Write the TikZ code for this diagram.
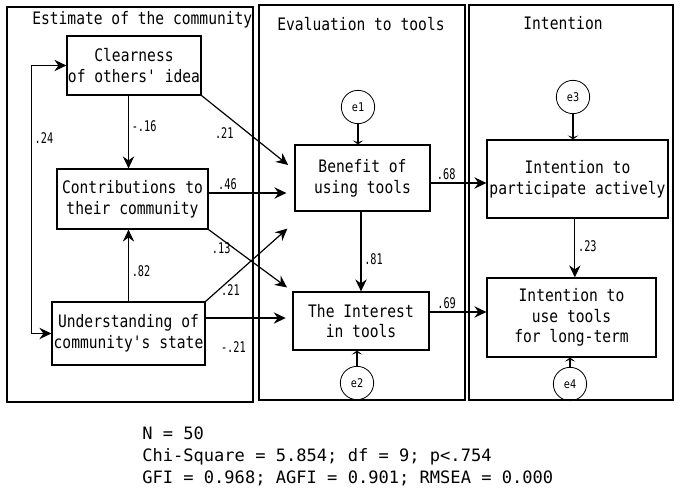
\documentclass[tikz,border=0pt]{standalone}
\usepackage{fontspec}
\newfontfamily\gothic[FakeStretch=0.85]{DejaVu Sans Mono}
\newfontfamily\gothicnarrow[FakeStretch=0.7]{DejaVu Sans Mono}
\newfontfamily\gothicwide{DejaVu Sans Mono}
\usetikzlibrary{arrows.meta,calc,positioning}

\tikzset{
  panel/.style={draw, line width=0.9pt},
  var/.style={draw, line width=0.9pt, align=center, inner sep=0pt,
    font=\gothic\fontsize{12.9pt}{15.6pt}\selectfont},
  err/.style={draw, circle, line width=0.6pt, minimum size=25pt, inner sep=0pt,
    font=\gothic\fontsize{9pt}{10pt}\selectfont},
  arr/.style={line width=0.9pt, -{Stealth[length=9pt,width=8.5pt,inset=3pt]}},
  biarr/.style={line width=0.9pt, {Stealth[length=9pt,width=8.5pt,inset=3pt]}-{Stealth[length=9pt,width=8.5pt,inset=3pt]}},
  errarr/.style={line width=0.8pt, -{Stealth[length=3pt,width=8pt,inset=1.5pt]}},
  coef/.style={font=\gothicnarrow\fontsize{11pt}{12pt}\selectfont, inner sep=2pt},
  title/.style={font=\gothic\fontsize{12.9pt}{15pt}\selectfont, inner sep=0pt},
  stats/.style={align=left, inner sep=0pt, font=\gothicwide\fontsize{12.8pt}{16.5pt}\selectfont}
}

\begin{document}
\begin{tikzpicture}[x=0.75pt,y=-0.75pt]
\useasboundingbox (0,0) rectangle (682,498);

% the three blocks
\draw[panel] (7,7) rectangle (253,402);
\draw[panel] (259,5) rectangle (465,400);
\draw[panel] (469,5) rectangle (673,400);
\node[title, anchor=west] (ttlest) at (32,20) {Estimate of the community};
\node[title] (ttleval) at (361,24) {Evaluation to tools};
\node[title] (ttlint) at (563,23) {Intention};

% observed variables
\node[var, minimum width=100.5pt, minimum height=44.25pt] (clear) at (134,65.5) {Clearness\\of others' idea};
\node[var, minimum width=113.25pt, minimum height=45pt] (contrib) at (132.5,199) {Contributions to\\their community};
\node[var, minimum width=114.75pt, minimum height=47.25pt] (underst) at (128.5,333.5) {Understanding of\\community's state};
\node[var, minimum width=101.25pt, minimum height=49.5pt] (benefit) at (362.5,178) {Benefit of\\using tools};
\node[var, minimum width=102pt, minimum height=43.5pt] (interest) at (361,321) {The Interest\\in tools};
\node[var, minimum width=135.75pt, minimum height=58.5pt] (partic) at (577.5,179) {Intention to\\participate actively};
\node[var, minimum width=126.75pt, minimum height=59.25pt] (longterm) at (571.5,317.5) {Intention to\\use tools\\for long-term};

% error terms
\node[err] (e1) at (358,107) {e1};
\node[err] (e2) at (357,383) {e2};
\node[err] (e3) at (573,97) {e3};
\node[err] (e4) at (570,384) {e4};

% paths
\draw[biarr] (clear.west) -- ++(-35,0) |- node[coef, pos=.135, right] {.24} (underst.west);
\draw[arr] (clear.south -| underst.north) -- (contrib.north -| underst.north) node[coef, pos=.42, right] {-.16};
\draw[arr] (underst.north) -- (underst.north |- contrib.south) node[coef, pos=.42, right] {.82};
\draw[arr, shorten >=6pt] (clear.south east) -- ($(benefit.west)+(0,-8)$) node[coef, pos=.38, anchor=north east] {.21};
\draw[arr, shorten >=6pt] ([yshift=4.5pt]contrib.east) -- ([yshift=4.5pt]contrib.east -| benefit.west) node[coef, pos=.22, above] {.46};
\draw[arr, shorten >=5pt] (contrib.south east) -- (interest.north west) node[coef, pos=.3, left] {.13};
\draw[arr] (underst.north east) -- ($(benefit.south west)+(-7,17)$) node[coef, pos=.15, right] {.21};
\draw[arr, shorten >=5pt] ([yshift=11.6pt]underst.east) -- ([yshift=11.6pt]underst.east -| interest.west) node[coef, pos=.32, below=15pt] {-.21};
\draw[arr] (interest.north |- benefit.south) -- (interest.north) node[coef, pos=.59, right] {.81};
\draw[arr] ([yshift=-3.75pt]benefit.east) -- ([yshift=-3.75pt]benefit.east -| partic.west) node[coef, pos=.28, above] {.68};
\draw[arr] ([yshift=6.75pt]interest.east) -- ([yshift=6.75pt]interest.east -| longterm.west) node[coef, pos=.3, above] {.69};
\draw[arr] ([xshift=2.5pt]longterm.north |- partic.south) -- ([xshift=2.5pt]longterm.north) node[coef, pos=.47, right] {.23};

\draw[errarr] (e1) -- (e1 |- benefit.north);
\draw[errarr] (e2) -- (e2 |- interest.south);
\draw[errarr] (e3) -- (e3 |- partic.north);
\draw[errarr] (e4) -- (e4 |- longterm.south);

% fit indices
\node[stats, anchor=north west] (fitidx) at (142,427) {N = 50\\Chi-Square = 5.854; df = 9; p<.754\\GFI = 0.968; AGFI = 0.901; RMSEA = 0.000};
\end{tikzpicture}
\end{document}
